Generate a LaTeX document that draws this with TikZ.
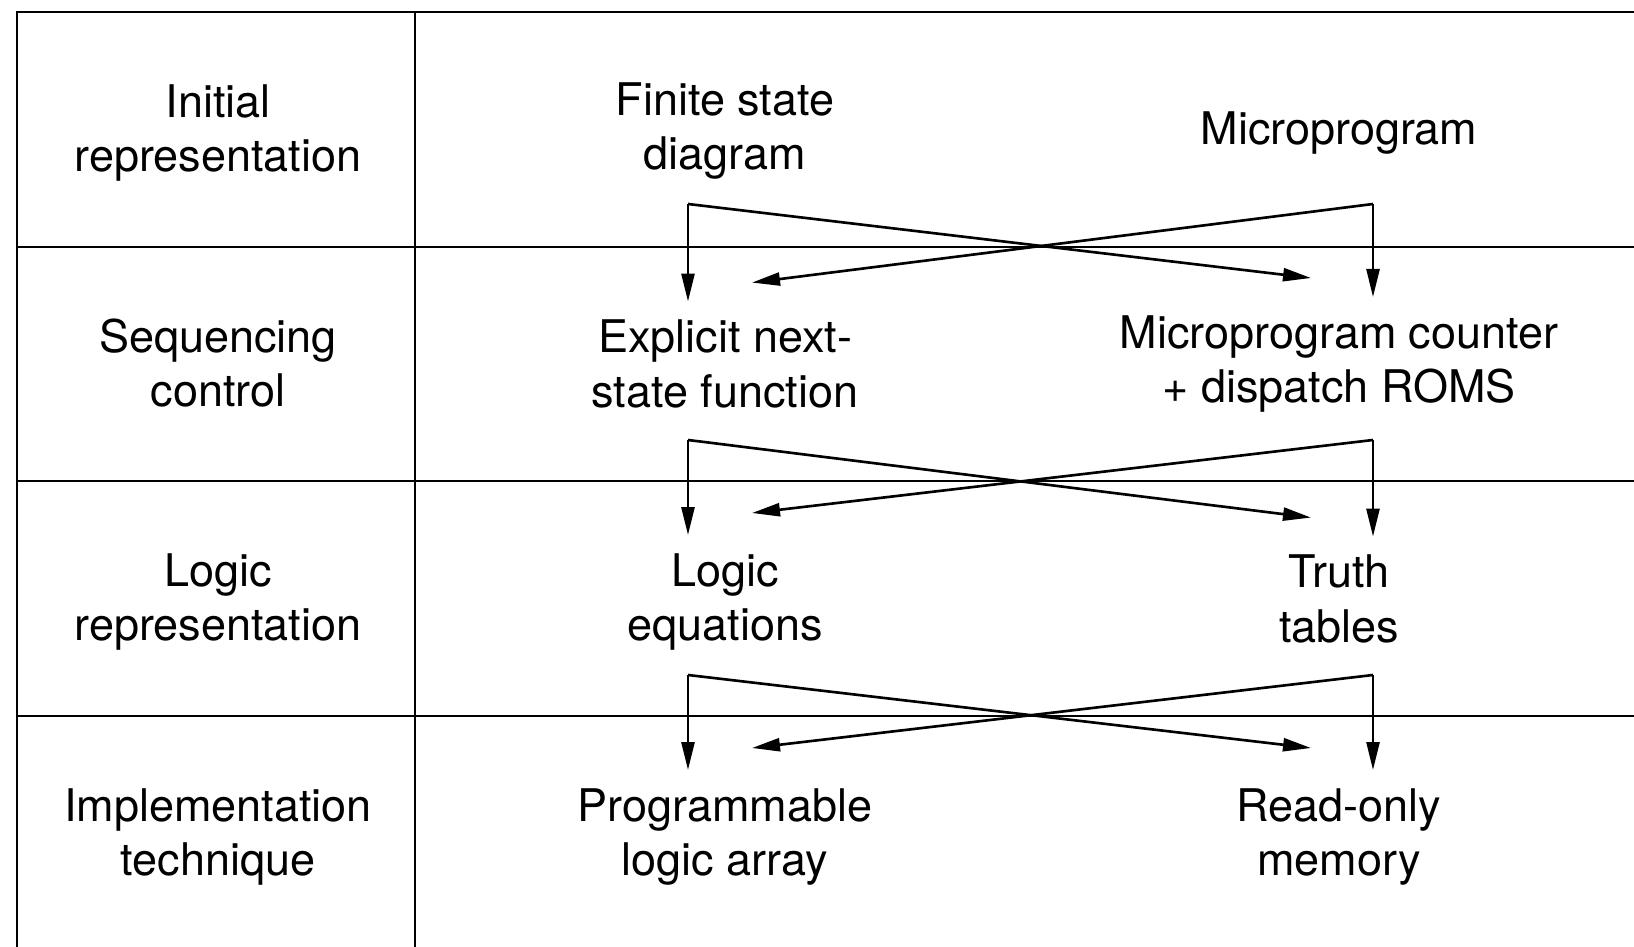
\documentclass[tikz,border=0pt]{standalone}
\usepackage{fontspec}
\setmainfont{TeX Gyre Heros}
\usetikzlibrary{arrows.meta,calc}

\begin{document}
\begin{tikzpicture}[
  rule/.style={line width=0.6pt},
  flow/.style={line width=0.75pt, -{Triangle[length=2.8mm,width=1.3mm]}},
  cell/.style={align=center, inner ysep=5.1pt, font=\fontsize{12.8}{15.4}\selectfont}
]
  \useasboundingbox (0,0) rectangle (16.34,9.47);

  % table rules, open at the right and at the bottom
  \draw[rule] (16.34,9.35) -- (0.17,9.35) -- (0.17,0);
  \draw[rule] (4.15,9.35) -- (4.15,0);
  \draw[rule] (0.17,7.00) -- (16.34,7.00);
  \draw[rule] (0.17,4.66) -- (16.34,4.66);
  \draw[rule] (0.17,2.31) -- (16.34,2.31);

  % row headings
  \node[cell] (init)  at (2.18,8.14) {Initial\\representation};
  \node[cell] (seq)   at (2.18,5.84) {Sequencing\\control};
  \node[cell] (logic) at (2.18,3.45) {Logic\\representation};
  \node[cell] (impl)  at (2.18,1.10) {Implementation\\technique};

  % the two design paths
  \node[cell] (fsd)     at (7.25,8.16)  {Finite state\\diagram};
  \node[cell] (mprog)   at (13.39,8.14) {Microprogram};
  \node[cell] (nextst)  at (7.25,5.83)  {Explicit next-\\state function};
  \node[cell] (mpc)     at (13.39,5.83) {Microprogram counter\\+ dispatch ROMS};
  \node[cell] (logiceq) at (7.25,3.45)  {Logic\\equations};
  \node[cell] (truth)   at (13.39,3.48) {Truth\\tables};
  \node[cell] (pla)     at (7.25,1.10)  {Programmable\\logic array};
  \node[cell] (rom)     at (13.39,1.10) {Read-only\\memory};

  % corners where the crossed arrows leave
  \coordinate (l1) at (6.88,7.43);  \coordinate (r1) at (13.73,7.43);
  \coordinate (l2) at (6.88,5.07);  \coordinate (r2) at (13.73,5.07);
  \coordinate (l3) at (6.88,2.72);  \coordinate (r3) at (13.73,2.72);

  % initial representation -> sequencing control
  \draw[flow] (l1) -- (l1 |- nextst.north);
  \draw[flow] (l1) -- ($(r1 |- mpc.north)+(-0.62,0.19)$);
  \draw[flow] (r1) -- (r1 |- mpc.north);
  \draw[flow] (r1) -- ($(l1 |- nextst.north)+(0.64,0.19)$);

  % sequencing control -> logic representation
  \draw[flow] (l2) -- (l2 |- logiceq.north);
  \draw[flow] (l2) -- ($(r2 |- truth.north)+(-0.62,0.19)$);
  \draw[flow] (r2) -- (r2 |- truth.north);
  \draw[flow] (r2) -- ($(l2 |- logiceq.north)+(0.64,0.22)$);

  % logic representation -> implementation technique
  \draw[flow] (l3) -- (l3 |- pla.north);
  \draw[flow] (l3) -- ($(r3 |- rom.north)+(-0.62,0.22)$);
  \draw[flow] (r3) -- (r3 |- rom.north);
  \draw[flow] (r3) -- ($(l3 |- pla.north)+(0.64,0.22)$);

\end{tikzpicture}
\end{document}
